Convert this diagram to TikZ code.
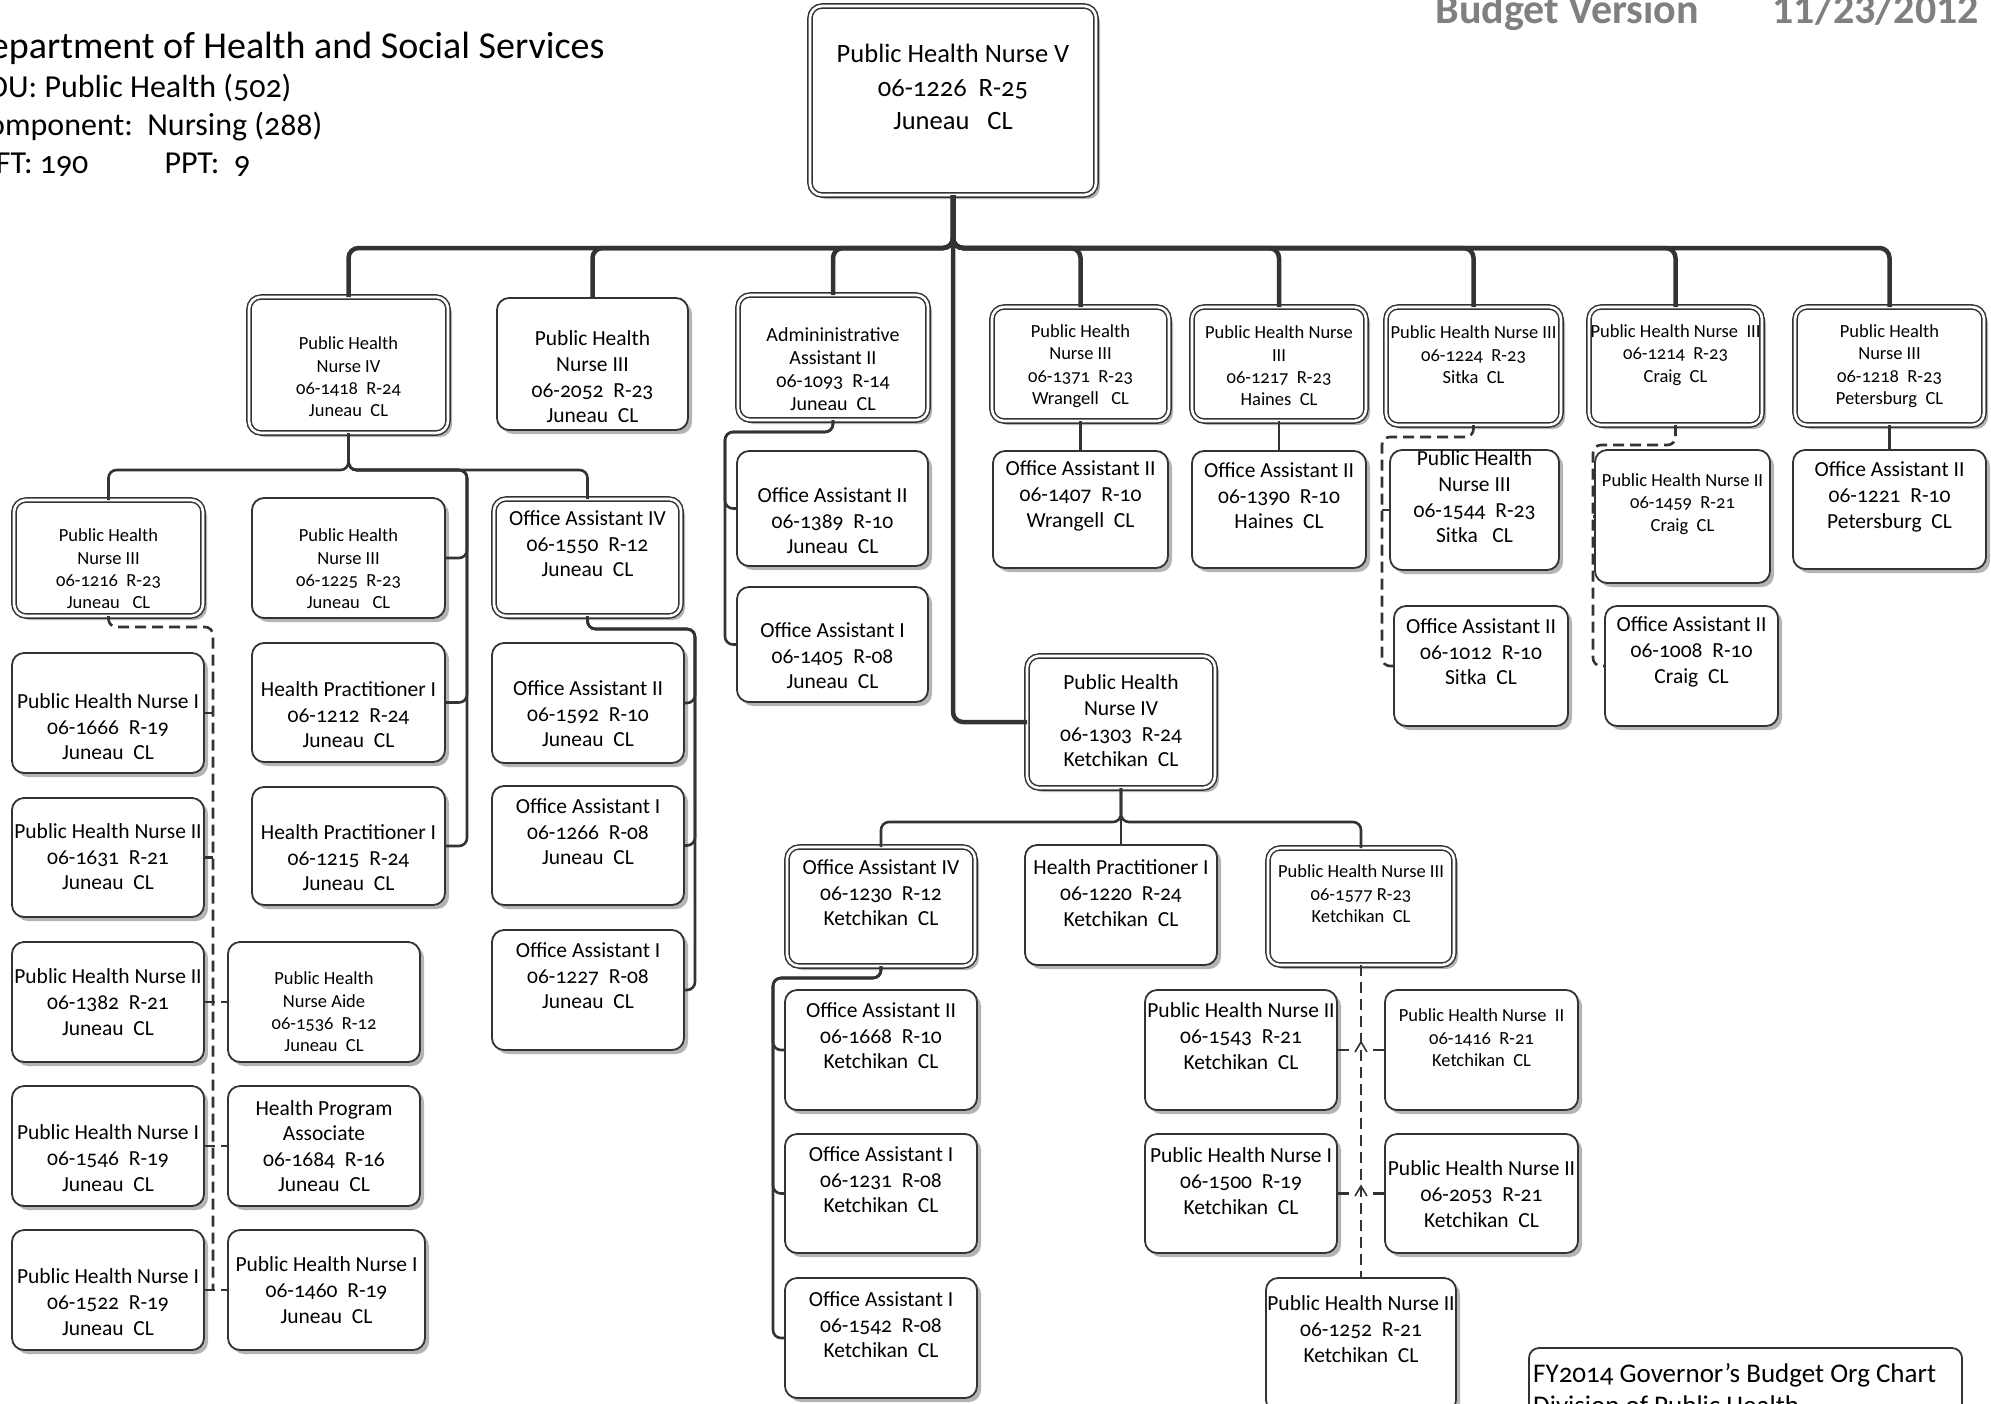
\documentclass[tikz,border=0pt]{standalone}
\usepackage{fontspec}
\setmainfont{Carlito}[Numbers=OldStyle]
\newfontfamily\hdfont{Carlito}[Numbers=Lining]
\usetikzlibrary{calc,shadows}
\definecolor{ln}{HTML}{333333}
\definecolor{shd}{HTML}{B4B4B4}
\definecolor{gr}{HTML}{808080}
\newcommand\fbig{\fontsize{21.5}{25.6}\selectfont}
\newcommand\fsml{\fontsize{18.5}{22.4}\selectfont}
\newcommand\fmed{\fontsize{20}{22.8}\selectfont}
\newcommand\ftop{\fontsize{26.5}{33.5}\selectfont}
\tikzset{
 box/.style={draw=ln, line width=1.8pt, rounded corners=12pt, fill=white, inner sep=0pt, outer sep=0pt,
   general shadow={fill=shd, shadow xshift=4pt, shadow yshift=-4pt}},
 dbl/.style={double=white, double distance=2.6pt, line width=1.5pt},
 txt/.style={align=center, inner sep=0pt, text=black},
 c1/.style={draw=ln, line width=4.5pt, rounded corners=10pt},
 c2/.style={draw=ln, line width=2.6pt, rounded corners=8pt},
 cd/.style={c2, dash pattern=on 11pt off 6pt},
 stub/.style={draw=ln, line width=2.6pt, dash pattern=on 12pt off 24pt},
 chev/.style={draw=ln, line width=1.6pt},
}
\newcommand\bx[9]{%
  \node[box,#6,minimum width={#4-#2},minimum height={#5-#3}] (#1) at ({(#2+#4)/2},{(#3+#5)/2}) {};
  \node[txt,font=#7] (#1t) at ({(#2+#4)/2},#8) {#9};}
\begin{document}
\begin{tikzpicture}[x=1pt,y=-1pt]
\useasboundingbox (0,0) rectangle (1991,1403);
% header
\node[anchor=base east,font=\fontsize{38}{40}\selectfont] (h1) at (608,58) {Department of Health and Social Services};
\node[anchor=base east,font=\fontsize{32}{34}\selectfont] (h2) at (295,97) {RDU: Public Health (502)};
\node[anchor=base east,font=\fontsize{32}{34}\selectfont] (h3) at (326,135) {Component:~~Nursing (288)};
\node[anchor=base east,font=\fontsize{32}{34}\selectfont] (h4) at (92,173) {PFT:~190};
\node[anchor=base west,font=\fontsize{32}{34}\selectfont] (h5) at (161,173) {PPT:~~9};
\node[anchor=base west,font=\hdfont\bfseries\fontsize{42}{44}\selectfont,text=gr] (bv) at (1432,23) {Budget Version};
\node[anchor=base west,font=\hdfont\bfseries\fontsize{42}{44}\selectfont,text=gr] (bd) at (1769,23) {11/23/2012};
% top
\bx{top}{810}{6}{1096}{195}{dbl}{\ftop}{87}{Public Health Nurse V\\06-1226~~R-25\\Juneau~~~CL}
% level 1
\bx{A}{249}{297}{448}{433}{dbl}{\fsml}{377}{Public Health\\Nurse IV\\06-1418~~R-24\\Juneau~~CL}
\bx{B}{497}{298}{688}{430}{}{\fbig}{377}{Public Health\\Nurse III\\06-2052~~R-23\\Juneau~~CL}
\bx{C}{738}{295}{928}{420}{dbl}{\fmed}{369}{Admininistrative\\Assistant II\\06-1093~~R-14\\Juneau~~CL}
\bx{D}{992}{307}{1169}{421}{dbl}{\fsml}{366}{Public Health\\Nurse III\\06-1371~~R-23\\Wrangell~~~CL}
\bx{E}{1192}{307}{1366}{421}{dbl}{\fsml}{366}{Public Health Nurse\\III\\06-1217~~R-23\\Haines~~CL}
\bx{F}{1386}{307}{1561}{425}{dbl}{\fsml}{355}{Public Health Nurse III\\06-1224~~R-23\\Sitka~~CL}
\bx{G}{1589}{307}{1762}{425}{dbl}{\fsml}{355}{Public Health Nurse~~III\\06-1214~~R-23\\Craig~~CL}
\bx{H}{1795}{307}{1984}{425}{dbl}{\fsml}{366}{Public Health\\Nurse III\\06-1218~~R-23\\Petersburg~~CL}
% under A
\bx{A1}{14}{500}{203}{616}{dbl}{\fsml}{569}{Public Health\\Nurse III\\06-1216~~R-23\\Juneau~~~CL}
\bx{A2}{252}{498}{445}{618}{}{\fsml}{569}{Public Health\\Nurse III\\06-1225~~R-23\\Juneau~~~CL}
\bx{A3}{252}{643}{445}{762}{}{\fbig}{715}{Health Practitioner I\\06-1212~~R-24\\Juneau~~CL}
\bx{A4}{252}{787}{445}{905}{}{\fbig}{858}{Health Practitioner I\\06-1215~~R-24\\Juneau~~CL}
\bx{A5}{494}{499}{681}{616}{dbl}{\fbig}{544}{Office Assistant IV\\06-1550~~R-12\\Juneau~~CL}
\bx{A6}{492}{643}{684}{763}{}{\fbig}{714}{Office Assistant II\\06-1592~~R-10\\Juneau~~CL}
\bx{A7}{492}{786}{684}{905}{}{\fbig}{832}{Office Assistant I\\06-1266~~R-08\\Juneau~~CL}
\bx{A8}{492}{930}{684}{1050}{}{\fbig}{976}{Office Assistant I\\06-1227~~R-08\\Juneau~~CL}
% under A1
\bx{L1}{12}{653}{204}{773}{}{\fbig}{727}{Public Health Nurse I\\06-1666~~R-19\\Juneau~~CL}
\bx{L2}{12}{798}{204}{917}{}{\fbig}{857}{Public Health Nurse II\\06-1631~~R-21\\Juneau~~CL}
\bx{L3}{12}{942}{204}{1062}{}{\fbig}{1002}{Public Health Nurse II\\06-1382~~R-21\\Juneau~~CL}
\bx{L4}{12}{1086}{204}{1206}{}{\fbig}{1158}{Public Health Nurse I\\06-1546~~R-19\\Juneau~~CL}
\bx{L5}{12}{1230}{204}{1350}{}{\fbig}{1302}{Public Health Nurse I\\06-1522~~R-19\\Juneau~~CL}
\bx{R3}{228}{942}{420}{1062}{}{\fsml}{1012}{Public Health\\Nurse Aide\\06-1536~~R-12\\Juneau~~CL}
\bx{R4}{228}{1086}{420}{1206}{}{\fbig}{1146}{Health Program\\Associate\\06-1684~~R-16\\Juneau~~CL}
\bx{R5}{228}{1230}{425}{1350}{}{\fbig}{1290}{Public Health Nurse I\\06-1460~~R-19\\Juneau~~CL}
% under C
\bx{C1}{737}{451}{928}{566}{}{\fbig}{521}{Office Assistant II\\06-1389~~R-10\\Juneau~~CL}
\bx{C2}{737}{587}{928}{702}{}{\fbig}{656}{Office Assistant I\\06-1405~~R-08\\Juneau~~CL}
% under D..H
\bx{D1}{993}{451}{1168}{568}{}{\fbig}{496}{Office Assistant II\\06-1407~~R-10\\Wrangell~~CL}
\bx{E1}{1192}{451}{1366}{568}{}{\fbig}{496}{Office Assistant II\\06-1390~~R-10\\Haines~~CL}
\bx{F1}{1390}{450}{1559}{570}{}{\fbig}{497}{Public Health\\Nurse III\\06-1544~~R-23\\Sitka~~~CL}
\bx{F2}{1394}{606}{1568}{726}{}{\fbig}{652}{Office Assistant II\\06-1012~~R-10\\Sitka~~CL}
\bx{G1}{1595}{450}{1770}{583}{}{\fsml}{504}{Public Health Nurse II\\06-1459~~R-21\\Craig~~CL}
\bx{G2}{1605}{606}{1778}{726}{}{\fbig}{652}{Office Assistant II\\06-1008~~R-10\\Craig~~CL}
\bx{H1}{1793}{450}{1986}{569}{}{\fbig}{497}{Office Assistant II\\06-1221~~R-10\\Petersburg~~CL}
% Ketchikan
\bx{K}{1027}{656}{1215}{788}{dbl}{\fbig}{721}{Public Health\\Nurse IV\\06-1303~~R-24\\Ketchikan~~CL}
\bx{K1}{787}{847}{975}{966}{dbl}{\fbig}{893}{Office Assistant IV\\06-1230~~R-12\\Ketchikan~~CL}
\bx{K2}{1025}{845}{1217}{965}{}{\fbig}{893}{Health Practitioner I\\06-1220~~R-24\\Ketchikan~~CL}
\bx{K3}{1268}{848}{1454}{965}{dbl}{\fsml}{894}{Public Health Nurse III\\06-1577~R-23\\Ketchikan~~CL}
\bx{K11}{785}{990}{977}{1110}{}{\fbig}{1036}{Office Assistant II\\06-1668~~R-10\\Ketchikan~~CL}
\bx{K12}{785}{1134}{977}{1253}{}{\fbig}{1180}{Office Assistant I\\06-1231~~R-08\\Ketchikan~~CL}
\bx{K13}{785}{1278}{977}{1398}{}{\fbig}{1325}{Office Assistant I\\06-1542~~R-08\\Ketchikan~~CL}
\bx{K31}{1145}{990}{1337}{1110}{}{\fbig}{1036}{Public Health Nurse II\\06-1543~~R-21\\Ketchikan~~CL}
\bx{K32}{1385}{990}{1578}{1110}{}{\fsml}{1038}{Public Health Nurse~~II\\06-1416~~R-21\\Ketchikan~~CL}
\bx{K33}{1145}{1134}{1337}{1253}{}{\fbig}{1181}{Public Health Nurse I\\06-1500~~R-19\\Ketchikan~~CL}
\bx{K34}{1385}{1134}{1578}{1253}{}{\fbig}{1194}{Public Health Nurse II\\06-2053~~R-21\\Ketchikan~~CL}
\bx{K35}{1266}{1278}{1456}{1412}{}{\fbig}{1329}{Public Health Nurse II\\06-1252~~R-21\\Ketchikan~~CL}
% FY box
\node[draw=ln, line width=1.8pt, rounded corners=10pt, minimum width=433, minimum height=100, inner sep=0pt] (fy) at (1745.5,1398) {};
\node[anchor=base west, font=\fontsize{27}{32}\selectfont, align=left, inner sep=0pt] (fyt) at (1533,1414) {FY2014 Governor’s Budget Org Chart\\Division of Public Health};
% connectors
\coordinate (bus) at (953,248);
\foreach \n in {A,B,C,D,E,F,G,H} \draw[c1] (top.south) |- (\n.north |- bus) -- (\n.north);
\draw[c1] (top.south) |- (K.west);
\coordinate (fa) at (348,470);
\coordinate (aR) at (467,470);
\draw[c2] (A.south) |- (A1.north |- fa) -- (A1.north);
\draw[c2] (A.south) |- (A5.north |- fa) -- (A5.north);
\foreach \n in {A2,A3,A4} \draw[c2] (A.south) |- (aR) |- (\n.east);
\coordinate (a5R) at (695,629);
\foreach \n in {A6,A7,A8} \draw[c2] (A5.south) |- (a5R) |- (\n.east);
\coordinate (cL) at (725,432);
\foreach \n in {C1,C2} \draw[c2] (C.south) |- (cL) |- (\n.west);
% dashed group under A1
\coordinate (a1R) at (213,627);
\draw[cd] (A1.south) |- (a1R) -- (a1R |- L5.east);
\draw[c2] (L1.east) -- (L1.east -| a1R);
\draw[c2] (L2.east) -- (L2.east -| a1R);
\draw[cd] (L3.east) -- (R3.west);
\draw[cd] (L4.east) -- (R4.west);
\draw[cd] (L5.east) -- (R5.west);
\draw[c2] (D.south) -- (D1.north);
\draw[c2] (E.south) -- (E1.north);
\draw[c2] (H.south) -- (H1.north);
\coordinate (fL) at (1382,437);
\draw[cd] (F.south) |- (fL) |- (F2.west);
\draw[c2] (F1.west -| fL) -- (F1.west);
\coordinate (gL) at (1593,445);
\draw[cd] (G.south) |- (gL) |- (G2.west);
\draw[c2] (G1.west -| gL) -- (G1.west);
\coordinate (kf) at (1121,822);
\draw[c2] (K.south) |- (K1.north |- kf) -- (K1.north);
\draw[c2] (K.south) |- (K3.north |- kf) -- (K3.north);
\draw[c2] (K.south) -- (K2.north);
\coordinate (k1L) at (773,978);
\foreach \n in {K11,K12,K13} \draw[c2] (K1.south) |- (k1L) |- (\n.west);
\draw[cd] (K3.south) -- (K35.north);
\draw[stub] (K31.east) -- (K32.west);
\draw[stub] (K33.east) -- (K34.west);
\coordinate (ch1) at (1361,1042);
\coordinate (ch2) at (1361,1186);
\draw[chev] ($(ch1)+(-6,10)$) -- (ch1) -- ($(ch1)+(6,10)$);
\draw[chev] ($(ch2)+(-6,10)$) -- (ch2) -- ($(ch2)+(6,10)$);
\end{tikzpicture}
\end{document}
